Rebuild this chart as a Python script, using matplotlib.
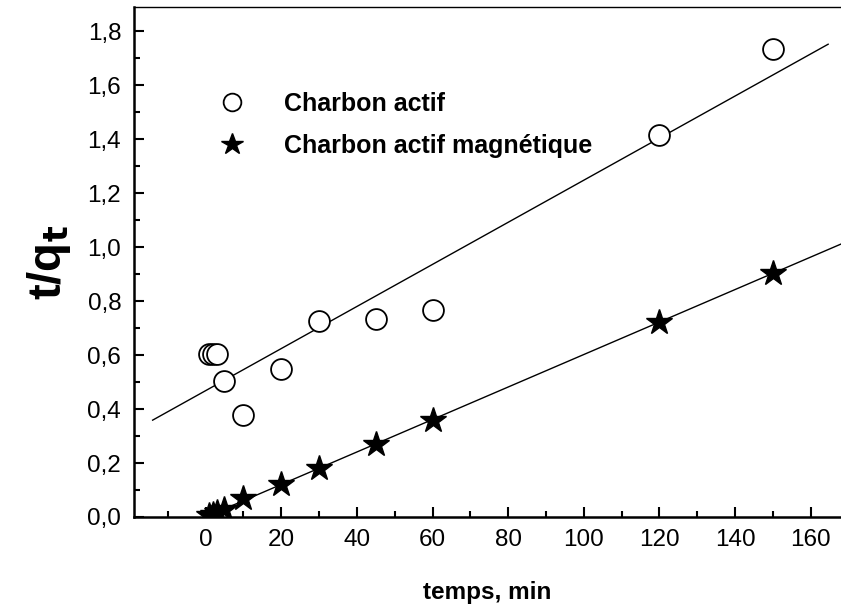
import matplotlib.pyplot as plt
from matplotlib.ticker import MultipleLocator, FuncFormatter

plt.rcParams['font.family'] = ['Liberation Sans', 'DejaVu Sans']

# temps (min)
t = [1, 2, 3, 5, 10, 20, 30, 45, 60, 120, 150]
# t/qt
ca = [0.603, 0.603, 0.603, 0.503, 0.377, 0.547, 0.725, 0.732, 0.768, 1.415, 1.735]
cam = [0.006, 0.012, 0.018, 0.03, 0.07, 0.124, 0.183, 0.27, 0.36, 0.722, 0.903]

# fitted lines (range, slope, intercept)
fit_ca_x = [-14, 164.6]
fit_ca = (0.0078, 0.468)
fit_cam_x = [0, 170]
fit_cam = (0.00602, 0.0)


def main():
    fig = plt.figure(figsize=(8.41, 6.05), dpi=100)
    ax = fig.add_axes([0.159, 0.1455, 0.841, 0.843])

    # regression lines
    ax.plot(fit_ca_x, [fit_ca[0] * x + fit_ca[1] for x in fit_ca_x],
            color='black', lw=1)
    ax.plot(fit_cam_x, [fit_cam[0] * x + fit_cam[1] for x in fit_cam_x],
            color='black', lw=1)

    # data points
    ax.plot(t, ca, 'o', ms=15, mfc='white', mec='black', mew=1.3,
            label='Charbon actif', zorder=3)
    ax.plot(t, cam, '*', ms=19, color='black', label='Charbon actif magnétique',
            zorder=3)

    ax.set_xlim(-19, 168)
    ax.set_ylim(0, 1.89)

    ax.xaxis.set_major_locator(MultipleLocator(20))
    ax.xaxis.set_minor_locator(MultipleLocator(10))
    ax.yaxis.set_major_locator(MultipleLocator(0.2))
    ax.yaxis.set_minor_locator(MultipleLocator(0.1))
    ax.yaxis.set_major_formatter(FuncFormatter(lambda v, p: f"{v:.1f}".replace('.', ',')))

    ax.tick_params(which='both', direction='in', labelsize=17.5, width=1.5,
                   top=False, right=False)
    ax.tick_params(which='major', length=7, pad=9)
    ax.tick_params(which='minor', length=4)

    for side in ['left', 'bottom']:
        ax.spines[side].set_linewidth(1.8)
    ax.spines['top'].set_linewidth(1.0)
    ax.spines['right'].set_visible(False)

    ax.set_xlabel("temps, min", fontsize=17.5, fontweight='bold', labelpad=21)
    ax.set_ylabel("t/q$_\\mathbf{t}$", fontsize=34, fontweight='bold', labelpad=10)

    ax.legend(loc='upper left', bbox_to_anchor=(0.103, 0.833), frameon=False,
              prop={'size': 18, 'weight': 'bold'}, markerscale=0.85,
              handletextpad=1.1, labelspacing=0.72, borderpad=0,
              borderaxespad=0)

    fig.savefig("out.png", dpi=100)


if __name__ == "__main__":
    main()
